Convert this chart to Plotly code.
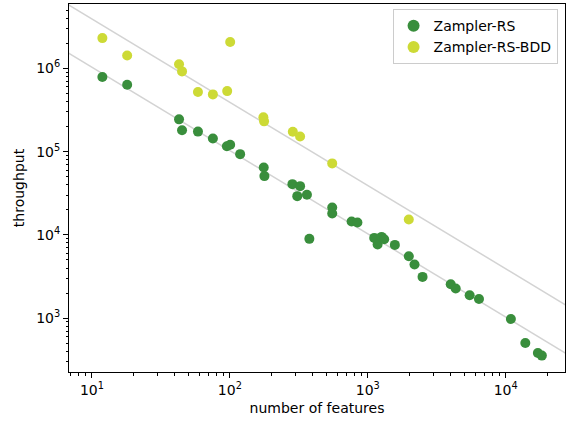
import plotly.graph_objects as go

# Data
rs_features = [11.9, 18.0, 42.8, 45.0, 58.7, 75.3, 95.1, 100.5, 118.7, 176, 178, 284, 323, 308, 362, 377,
               552, 552, 763, 841, 1113, 1178, 1259, 1315, 1571, 1983, 2181, 2494, 3993, 4339, 5477, 6398,
               10900, 13870, 17100, 18280]
rs_throughput = [786e3, 635e3, 244e3, 181e3, 174e3, 144e3, 116e3, 121e3, 93.3e3, 64.6e3, 50.8e3, 40.7e3,
                 38.5e3, 29.2e3, 30.3e3, 8.96e3, 21.3e3, 18.1e3, 14.5e3, 14.1e3, 9.2e3, 7.67e3, 9.46e3,
                 8.88e3, 7.58e3, 5.55e3, 4.41e3, 3.13e3, 2.55e3, 2.27e3, 1.88e3, 1.70e3, 977, 503, 382, 355]

bdd_features = [11.9, 18.0, 42.8, 45.0, 58.7, 75.3, 95.6, 100.5, 175, 177, 286, 323, 552, 1983]
bdd_throughput = [2.31e6, 1.43e6, 1.12e6, 920e3, 519e3, 487e3, 533e3, 2.07e6, 258e3, 231e3, 173e3, 152e3,
                  72.2e3, 15.3e3]

x_tick_vals = [10, 100, 1000, 10000]
x_tick_text = ["10<sup>1</sup>", "10<sup>2</sup>", "10<sup>3</sup>", "10<sup>4</sup>"]
y_tick_vals = [1e3, 1e4, 1e5, 1e6]
y_tick_text = ["10<sup>3</sup>", "10<sup>4</sup>", "10<sup>5</sup>", "10<sup>6</sup>"]

# Reference lines of the form throughput = C / features
line_consts = [3.92e7, 1.03e7]
line_x = [1, 1e5]

GREEN = "#398e3c"
LIME = "#cdda36"
FONT = "DejaVu Sans"


def minor_log_ticks(lo_exp, hi_exp):
    return [m * 10 ** e for e in range(lo_exp, hi_exp + 1) for m in range(2, 10)]


fig = go.Figure()
for c in line_consts:
    fig.add_trace(go.Scatter(x=line_x, y=[c / v for v in line_x], mode="lines",
                             line=dict(color="#d3d3d3", width=1.5), showlegend=False, hoverinfo="skip"))

fig.add_trace(go.Scatter(x=rs_features, y=rs_throughput, mode="markers", name="Zampler-RS",
                         marker=dict(color=GREEN, size=10, line=dict(width=0))))
fig.add_trace(go.Scatter(x=bdd_features, y=bdd_throughput, mode="markers", name="Zampler-RS-BDD",
                         marker=dict(color=LIME, size=10, line=dict(width=0))))

axis_common = dict(
    type="log", showgrid=False, zeroline=False, showline=True, linecolor="black", linewidth=1,
    mirror=True, ticks="outside", ticklen=5, tickwidth=1, tickcolor="black",
    tickmode="array",
    tickfont=dict(family=FONT, size=14, color="black"),
)

fig.update_layout(
    width=570, height=421,
    margin=dict(l=68.5, r=4.5, t=4, b=49.3),
    plot_bgcolor="white", paper_bgcolor="white",
    font=dict(family=FONT, size=14, color="black"),
    xaxis=dict(range=[0.8336, 4.4298], tickvals=x_tick_vals, ticktext=x_tick_text,
               minor=dict(tickmode="array", tickvals=minor_log_ticks(0, 4), ticks="outside",
                          ticklen=2.5, tickwidth=0.8, tickcolor="black", showgrid=False),
               title=dict(text="number of features", font=dict(family=FONT, size=14), standoff=6),
               **axis_common),
    yaxis=dict(range=[2.3534, 6.773], tickvals=y_tick_vals, ticktext=y_tick_text,
               minor=dict(tickmode="array", tickvals=minor_log_ticks(2, 6), ticks="outside",
                          ticklen=2.5, tickwidth=0.8, tickcolor="black", showgrid=False),
               title=dict(text="throughput", font=dict(family=FONT, size=14), standoff=8),
               **axis_common),
    legend=dict(x=0.985, y=0.986, xanchor="right", yanchor="top",
                bgcolor="rgba(255,255,255,0.8)", bordercolor="#cccccc", borderwidth=1,
                font=dict(family=FONT, size=14), itemsizing="constant"),
)

fig.write_html("out.html", config={"displayModeBar": False},
               post_script="document.body.style.margin='0';document.body.style.padding='0';")
